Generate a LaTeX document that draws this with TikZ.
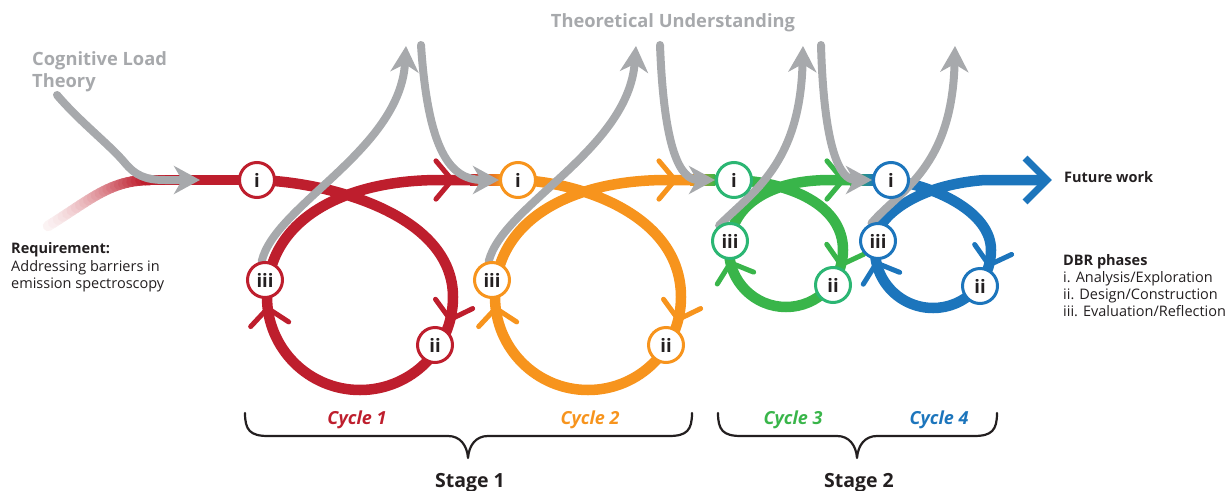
\documentclass[tikz,border=0pt]{standalone}
\usepackage{fontspec}
\setmainfont{Open Sans}
\usetikzlibrary{arrows.meta}
\definecolor{cred}{HTML}{BE1E2D}
\definecolor{corange}{HTML}{F7941D}
\definecolor{cgreen}{HTML}{39B54A}
\definecolor{cgreenn}{HTML}{2BB673}
\definecolor{cblue}{HTML}{1C75BC}
\definecolor{cgrey}{HTML}{A7A9AC}
\definecolor{ctext}{HTML}{231F20}
\pgfdeclarelayer{bg}
\pgfsetlayers{bg,main}
% chevron: tip x, tip y, direction (screen angle), colour
\newcommand\chevmark[4]{%
  \draw[chevline, draw=#4] (#1,#2) ++({#3+130}:25) -- (#1,#2) -- ++({#3-130}:25);}
\tikzset{
  phase/.style={circle, draw=#1, line width=3pt, fill=white, minimum size=35pt,
    inner sep=0pt, text=ctext, font=\fontsize{18.5}{18.5}\selectfont\bfseries},
  cyc/.style={line width=10.5pt, draw=#1, line cap=butt},
  chevline/.style={line width=5pt, line cap=round, line join=round},
  greyarrow/.style={draw=cgrey, line width=8pt, line cap=round,
    -{Stealth[length=26pt,width=28pt,inset=8pt]}},
  bracestyle/.style={draw=ctext, line width=2.2pt, line cap=round, line join=round},
  greylabel/.style={text=cgrey, font=\fontsize{18.3}{18.3}\selectfont\bfseries, inner sep=0pt},
  smalltext/.style={text=ctext, font=\fontsize{14.5}{14.5}\selectfont, inner sep=0pt, anchor=base west},
  smallbold/.style={text=ctext, font=\fontsize{14.5}{14.5}\selectfont\bfseries, inner sep=0pt, anchor=base west},
  cyclabel/.style={text=#1, font=\fontsize{18}{18}\selectfont\bfseries\itshape, inner sep=0pt, anchor=base},
  stagelabel/.style={text=ctext, font=\fontsize{19.5}{19.5}\selectfont\bfseries, inner sep=0pt, anchor=base}
}
\begin{document}
\begin{tikzpicture}[x=1pt,y=-1pt]
\useasboundingbox (0,0) rectangle (1226,490);

% phase nodes
\node[phase=cred] (r1) at (257,180) {i};
\node[phase=cred] (r2) at (435,345) {ii};
\node[phase=cred] (r3) at (265,280) {iii};
\node[phase=corange] (o1) at (518,180) {i};
\node[phase=corange] (o2) at (666,345) {ii};
\node[phase=corange] (o3) at (492,280) {iii};
\node[phase=cgreenn] (g1) at (734,180) {i};
\node[phase=cgreenn] (g2) at (833,285) {ii};
\node[phase=cgreenn] (g3) at (730,241) {iii};
\node[phase=cblue] (b1) at (891,180) {i};
\node[phase=cblue] (b2) at (980,286) {ii};
\node[phase=cblue] (b3) at (878,241) {iii};

% labels
\node[greylabel, anchor=base west] (clt1) at (32,65) {Cognitive Load};
\node[greylabel, anchor=base west] (clt2) at (32,87) {Theory};
\node[greylabel, anchor=base] (tu) at (673,27) {Theoretical Understanding};
\node[smallbold] (fw) at (1064,182) {Future work};
\node[smallbold] (req1) at (11,253) {Requirement:};
\node[smalltext] (req2) at (11,271) {Addressing barriers in};
\node[smalltext] (req3) at (11,288.5) {emission spectroscopy};
\node[smallbold] (dbr0) at (1063,265) {DBR phases};
\node[smalltext] (dbr1) at (1063,282.3) {i. Analysis/Exploration};
\node[smalltext] (dbr2) at (1063,299.5) {ii. Design/Construction};
\node[smalltext] (dbr3) at (1063,316.7) {iii. Evaluation/Reflection};
\node[cyclabel=cred] (c1) at (357,424) {Cycle 1};
\node[cyclabel=corange] (c2) at (590,424) {Cycle 2};
\node[cyclabel=cgreen] (c3) at (793,424) {Cycle 3};
\node[cyclabel=cblue] (c4) at (939,424) {Cycle 4};
\node[stagelabel] (s1) at (470,487) {Stage 1};
\node[stagelabel] (s2) at (859,487) {Stage 2};

\begin{pgfonlayer}{bg}
% faded requirement line
\foreach \k in {1,...,24} {
  \pgfmathsetmacro\ta{(\k-1)/24}
  \pgfmathsetmacro\tb{\k/24}
  \pgfmathsetmacro\pc{4+96*(\k/24)^1.3}
  \path (48,226) .. controls (90,200) and (110,180) .. (150,180)
     coordinate[pos=\ta] (fa) coordinate[pos=\tb] (fb);
  \draw[line width=10.5pt, line cap=round, draw=cred!\pc!white] (fa) -- (fb);
}
\draw[cyc=cred] (150,180) -- (r1.center);

% cycle 1
\draw[cyc=cred] (r1.center) .. controls (330,182) and (453,215) .. (453,297)
  arc[start angle=0, end angle=180, radius=93]
  .. controls (267,222) and (340,180) .. (440,180) -- (470.5,180);
\shade[left color=cred, right color=corange] (470,174.75) rectangle (500,185.25);
% cycle 2
\draw[cyc=corange] (499.5,180) -- (o1.center) .. controls (580,182) and (681,215) .. (681,297)
  arc[start angle=0, end angle=180, radius=93]
  .. controls (495,222) and (568,180) .. (667,180) -- (690.5,180);
\shade[left color=corange, right color=cgreen] (690,174.75) rectangle (715,185.25);
% cycle 3
\draw[cyc=cgreen] (714.5,180) -- (g1.center) .. controls (790,182) and (843,205) .. (843,250)
  arc[start angle=0, end angle=180, radius=57]
  .. controls (729,205) and (770,180) .. (830,180) -- (850.5,180);
\shade[left color=cgreen, right color=cblue] (850,174.75) rectangle (875,185.25);
% cycle 4
\draw[cyc=cblue] (874.5,180) -- (b1.center) .. controls (935,186) and (991,212) .. (991,250)
  arc[start angle=0, end angle=200, radius=58]
  .. controls (883.6,216) and (915,185) .. (985,180) -- (1044,180);
\draw[cblue, line width=7pt, line join=miter] (1025,158) -- (1047,180) -- (1025,202);

% direction chevrons
\chevmark{452}{180}{0}{cred}
\chevmark{450.2}{319.5}{104}{cred}
\chevmark{267.7}{308.3}{263}{cred}
\chevmark{675}{180}{0}{corange}
\chevmark{678.2}{319.5}{104}{corange}
\chevmark{495.7}{308.3}{263}{corange}
\chevmark{843}{180}{0}{cgreen}
\chevmark{841.1}{264.8}{105}{cgreen}
\chevmark{730.5}{262.8}{252}{cgreen}
\chevmark{989}{265}{105}{cblue}
\chevmark{876.5}{263}{252}{cblue}

% grey theory arrows
\draw[greyarrow] (57,95) .. controls (80,122) and (110,145) .. (125,163)
  .. controls (135,175) and (145,180) .. (165,180) -- (200,180);
\draw[greyarrow] (r3.100) .. controls (275,205) and (400,150) .. (406,46);
\draw[greyarrow] (421,45) .. controls (428,150) and (450,180) .. (o1.west);
\draw[greyarrow] (o3.100) .. controls (503,205) and (628,150) .. (636,46);
\draw[greyarrow] (660,45) .. controls (664,150) and (680,180) .. (g1.west);
\draw[greyarrow] (g3.125) .. controls (752,192) and (800,165) .. (803,46);
\draw[greyarrow] (821,45) .. controls (824,150) and (840,180) .. (b1.west);
\draw[greyarrow] (b3.110) .. controls (900,190) and (952,168) .. (955,46);

% braces
\draw[bracestyle] (245,413) .. controls (245,430) and (250,436) .. (268,436) -- (448,436)
  .. controls (460,436) and (467,445) .. (468,458)
  .. controls (469,445) and (476,436) .. (488,436) -- (669,436)
  .. controls (687,436) and (692,430) .. (692,413);
\draw[bracestyle] (718,413) .. controls (718,430) and (723,436) .. (741,436) -- (837,436)
  .. controls (849,436) and (856,445) .. (857,458)
  .. controls (858,445) and (865,436) .. (877,436) -- (974,436)
  .. controls (992,436) and (997,430) .. (997,413);
\end{pgfonlayer}
\end{tikzpicture}
\end{document}
